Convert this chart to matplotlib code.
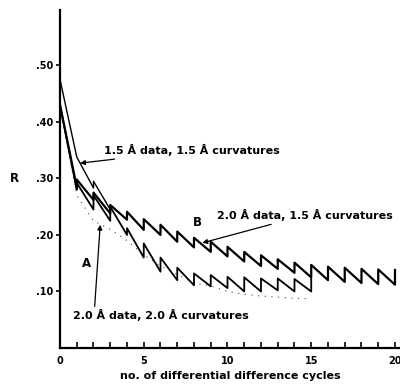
import matplotlib
matplotlib.use("Agg")
import matplotlib.pyplot as plt
import numpy as np

plt.rcParams["font.family"] = ["DejaVu Sans"]

# R at the end of each cycle (before the jump) and right after the jump
# 1.5 A data, 1.5 A curvatures (only the first few cycles)
c15_x = [0, 1, 2, 2, 3]
c15_r = [0.475, 0.338, 0.283, 0.295, 0.245]

# B: 2.0 A data, 1.5 A curvatures  (cycles 0..20)
b_cycles = list(range(1, 21))
b_low = [0.285, 0.262, 0.238, 0.227, 0.209, 0.200, 0.188, 0.178, 0.170, 0.162,
         0.153, 0.145, 0.140, 0.133, 0.125, 0.120, 0.117, 0.115, 0.113, 0.112]
b_high = [0.298, 0.275, 0.253, 0.241, 0.228, 0.218, 0.206, 0.195, 0.188, 0.179,
          0.170, 0.164, 0.157, 0.151, 0.147, 0.144, 0.142, 0.140, 0.139, 0.138]
b_start = 0.43

# A: 2.0 A data, 2.0 A curvatures  (cycles 0..15)
a_cycles = list(range(1, 16))
a_low = [0.280, 0.245, 0.225, 0.200, 0.160, 0.135, 0.120, 0.111, 0.109, 0.106,
         0.100, 0.100, 0.102, 0.100, 0.100]
a_high = [0.292, 0.270, 0.250, 0.212, 0.185, 0.160, 0.142, 0.132, 0.129, 0.126,
          0.125, 0.123, 0.123, 0.122, 0.122]
a_start = 0.43

# dotted trace below A
dot_x = [0, 1, 2, 3, 4, 5, 6, 7, 8, 9, 10, 11, 12, 13, 14, 15]
dot_r = [0.43, 0.27, 0.225, 0.21, 0.19, 0.165, 0.145, 0.13, 0.115, 0.11,
         0.10, 0.095, 0.092, 0.09, 0.088, 0.087]


def sawtooth(start, cycles, low, high):
    xs, ys = [0], [start]
    for c, lo, hi in zip(cycles, low, high):
        xs += [c, c]
        ys += [lo, hi]
    return xs, ys


fig = plt.figure(figsize=(4.0, 3.85), dpi=100)
ax = fig.add_axes([0.15, 0.0961, 0.85, 0.878])

ax.plot(c15_x, c15_r, color="black", lw=1.0)
bx, by = sawtooth(b_start, b_cycles, b_low, b_high)
ax.plot(bx, by, color="black", lw=1.6)
axx, ayy = sawtooth(a_start, a_cycles, a_low, a_high)
ax.plot(axx, ayy, color="black", lw=1.3)
ax.plot(dot_x, dot_r, color="black", lw=0.8, ls=(0, (1, 5)), alpha=0.7)

ax.set_xlim(0, 20.3)
ax.set_ylim(0, 0.598)
for s in ["top", "right"]:
    ax.spines[s].set_visible(False)
for s in ["left", "bottom"]:
    ax.spines[s].set_linewidth(1.6)

ax.set_xticks([0, 5, 10, 15, 20])
ax.set_xticklabels(["0", "5", "10", "15", "20"], fontsize=7, fontweight="bold")
ax.set_xticks(range(0, 21), minor=True)
ax.tick_params(axis="x", which="both", direction="in", length=4, width=1.2, pad=6)
ax.set_yticks([0.1, 0.2, 0.3, 0.4, 0.5])
ax.set_yticklabels([".10", ".20", ".30", ".40", ".50"], fontsize=7, fontweight="bold")
ax.tick_params(axis="y", direction="out", length=3, width=1.2, pad=2)

ax.text(-2.7, 0.30, "R", fontsize=8.5, fontweight="bold", ha="center", va="center")
ax.set_xlabel("no. of differential difference cycles", fontsize=8, fontweight="bold",
              labelpad=3)

arrow = dict(arrowstyle="-|>", color="black", lw=0.9, mutation_scale=7)
ax.annotate("1.5 Å data, 1.5 Å curvatures", xy=(1.2, 0.327), xytext=(2.6, 0.35),
            fontsize=8, fontweight="bold", ha="left", va="center",
            arrowprops=dict(arrow, shrinkA=1, shrinkB=0))
ax.annotate("2.0 Å data, 1.5 Å curvatures", xy=(8.5, 0.186), xytext=(9.4, 0.235),
            fontsize=8, fontweight="bold", ha="left", va="center",
            arrowprops=dict(arrow, shrinkA=1, shrinkB=0))
ax.text(8.2, 0.222, "B", fontsize=8.5, fontweight="bold", ha="center", va="center")
ax.text(1.6, 0.150, "A", fontsize=8.5, fontweight="bold", ha="center", va="center")
ax.annotate("2.0 Å data, 2.0 Å curvatures", xy=(2.4, 0.218), xytext=(0.8, 0.058),
            fontsize=8, fontweight="bold", ha="left", va="center",
            arrowprops=dict(arrow, shrinkA=0, shrinkB=0, relpos=(0.12, 1.0)))

fig.savefig("out.png", dpi=100)
